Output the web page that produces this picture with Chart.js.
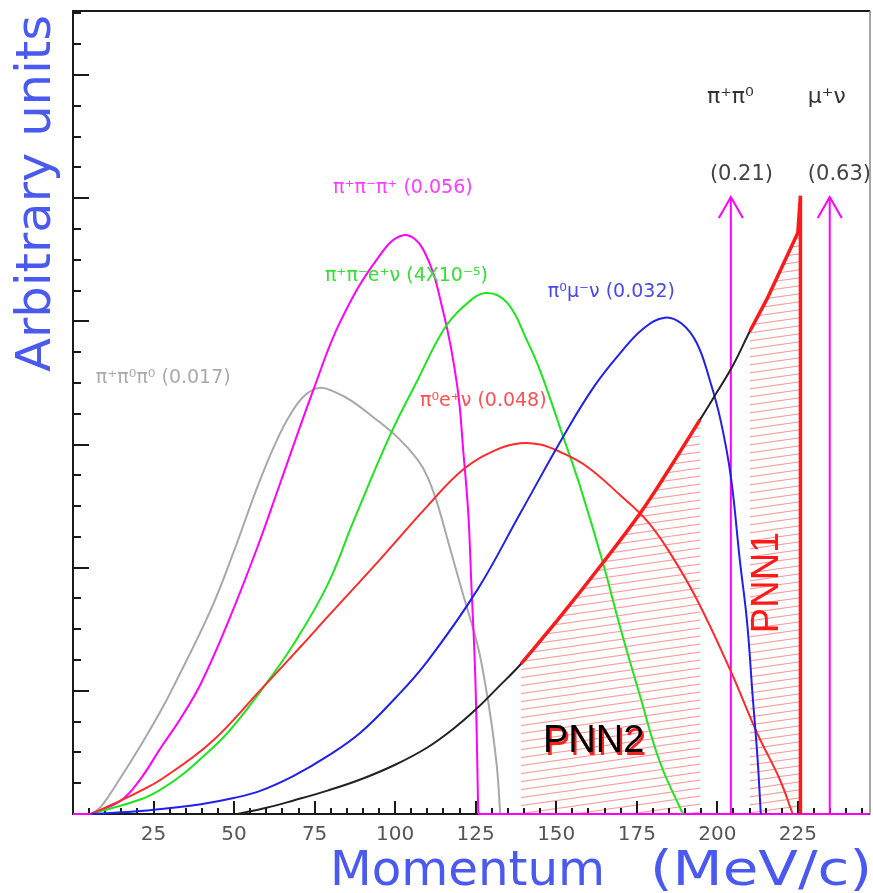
<!DOCTYPE html>
<html>
<head>
<meta charset="utf-8">
<title>K+ decay momentum spectra</title>
<script src="https://cdn.jsdelivr.net/npm/chart.js@4.4.1/dist/chart.umd.min.js"></script>
<style>
  html, body { margin: 0; padding: 0; background: #fff; }
  #wrap { width: 873px; height: 893px; }
</style>
</head>
<body>
<div id="wrap"><canvas id="spectra" width="873" height="893"></canvas></div>
<script>
// momentum (MeV/c) and arbitrary-unit height of each decay spectrum
const pi0pi0X = [5.6, 8.7, 14.9, 21.1, 27.3, 31.3, 42.8, 49.9, 57.3, 63.0, 67.6, 72.0, 76.5, 81.0, 86.1, 93.3, 100.7, 106.9, 110.0, 113.1, 117.0, 121.0, 125.5, 128.0, 130.0, 131.7, 132.6];
const pi0pi0Y = [0, 0.06, 0.30, 0.56, 0.84, 1.04, 1.66, 2.13, 2.66, 3.02, 3.25, 3.40, 3.46, 3.43, 3.36, 3.22, 3.06, 2.88, 2.74, 2.52, 2.16, 1.79, 1.38, 1.05, 0.72, 0.35, 0];

const pipipiX = [5.6, 14.9, 21.1, 27.3, 33.5, 39.7, 48.0, 57.3, 64.5, 74.7, 83.0, 94.5, 102.5, 108.8, 115.0, 119.3, 121.2, 122.7, 123.6, 124.9, 125.8];
const pipipiY = [0, 0.11, 0.29, 0.54, 0.78, 1.06, 1.55, 2.17, 2.70, 3.45, 4.00, 4.51, 4.70, 4.58, 4.07, 3.47, 2.93, 2.44, 1.90, 1.09, 0];
// the pi+pi-pi+ line also runs along the axis outside its hump
const pipipiBaseLeft = [0, 5.6];
const pipipiBaseRight = [125.8, 247];

const ke4X = [5.6, 21.1, 27.3, 33.5, 39.7, 48.0, 58.3, 68.5, 79.0, 87.1, 98.5, 106.9, 115.0, 121.2, 128.0, 134.8, 141.0, 145.0, 152.2, 157.4, 164.5, 169.8, 176.0, 182.2, 189.3];
const ke4Y = [0, 0.12, 0.20, 0.31, 0.45, 0.66, 1.00, 1.38, 1.86, 2.38, 3.08, 3.52, 3.93, 4.12, 4.23, 4.15, 3.84, 3.60, 3.06, 2.66, 2.04, 1.52, 0.96, 0.42, 0];

const ke3X = [5.6, 14.9, 21.1, 27.3, 42.8, 58.3, 70.7, 79.0, 95.4, 110.0, 121.2, 131.7, 138.8, 145.0, 151.2, 159.6, 169.8, 178.2, 185.3, 193.7, 204.0, 212.3, 219.4, 223.4];
const ke3Y = [0, 0.11, 0.19, 0.28, 0.58, 1.01, 1.36, 1.60, 2.07, 2.50, 2.80, 2.96, 3.01, 3.00, 2.94, 2.82, 2.59, 2.38, 2.12, 1.74, 1.17, 0.66, 0.28, 0];

const kmu3X = [5.6, 18.9, 27.3, 39.7, 49.9, 58.3, 68.5, 79.0, 89.2, 100.0, 110.0, 125.5, 138.8, 153.4, 162.0, 169.8, 177.0, 183.7, 189.0, 193.7, 197.7, 201.0, 204.2, 207.0, 209.2, 211.0, 212.5, 213.5];
const kmu3Y = [0, 0.02, 0.04, 0.08, 0.13, 0.19, 0.31, 0.47, 0.66, 0.94, 1.24, 1.82, 2.44, 3.12, 3.48, 3.74, 3.94, 4.03, 3.98, 3.82, 3.52, 3.20, 2.74, 2.06, 1.57, 0.95, 0.45, 0];

// pi+ nu nubar signal spectrum
const pnnX = [51, 60, 68.5, 79, 89.2, 100, 110.0, 118, 125.5, 132, 139.1, 151.2, 164.5, 176.0, 183.1, 194.6, 198.6, 204.8, 210.1, 215.4, 225.0];
const pnnY = [0, 0.05, 0.11, 0.19, 0.28, 0.40, 0.54, 0.69, 0.86, 1.03, 1.22, 1.60, 2.04, 2.44, 2.72, 3.20, 3.37, 3.64, 3.92, 4.18, 4.72];
const pnnEdgeX = [225.8, 225.8];
const pnnEdgeY = [5.02, 0];

// signal regions
const pnn2Range = [139, 195];
const pnn1Range = [210, 226];

// two-body peaks (pi+pi0, mu+nu)
const twoBodyX = [204.2, 234.9];
const twoBodyTop = 5.01;

const xTickLabels = [25, 50, 75, 100, 125, 150, 175, 200, 225];
const xMinorStep = 5;
const yMajorTicks = [0, 1, 2, 3, 4, 5, 6];
const yMinorStep = 0.25;

const xMax = 247.4;
const yMax = 6.52;

const notes = [
  { text: 'π⁺π⁰π⁰ (0.017)', x: 7.1, y: 3.54, color: '#aaaaaa', size: 19 },
  { text: 'π⁺π⁻π⁺ (0.056)', x: 80.7, y: 5.08, color: '#ff3cff', size: 19 },
  { text: 'π⁺π⁻e⁺ν (4X10⁻⁵)', x: 78.2, y: 4.37, color: '#33e033', size: 19 },
  { text: 'π⁰e⁺ν (0.048)', x: 107.7, y: 3.35, color: '#ff5050', size: 19 },
  { text: 'π⁰μ⁻ν (0.032)', x: 147.4, y: 4.24, color: '#4848ee', size: 19 },
  { text: 'π⁺π⁰', x: 196.8, y: 5.82, color: '#333', size: 22 },
  { text: 'μ⁺ν', x: 228.1, y: 5.82, color: '#333', size: 22 },
  { text: '(0.21)', x: 197.7, y: 5.19, color: '#444', size: 21 },
  { text: '(0.63)', x: 228.1, y: 5.19, color: '#444', size: 21 }
];

const FONT = '"DejaVu Sans", sans-serif';
const AXIS_BLUE = '#4a5af0';

function pts(xs, ys) {
  return xs.map((x, i) => ({ x, y: ys[i] }));
}

function inRange(xs, ys, r) {
  return pts(xs, ys).filter(p => p.x >= r[0] && p.x <= r[1]);
}

function hatchPattern(ctx) {
  const c = document.createElement('canvas');
  c.width = 56; c.height = 8;
  const g = c.getContext('2d');
  g.strokeStyle = 'rgba(255, 70, 70, 0.55)';
  g.lineWidth = 1.2;
  g.beginPath();
  for (let k = -1; k <= 1; k++) {
    g.moveTo(0, 8 + k * 8);
    g.lineTo(56, k * 8);
  }
  g.stroke();
  return ctx.createPattern(c, 'repeat');
}

function curve(label, data, color, width, extra) {
  return Object.assign({
    label, data,
    borderColor: color,
    borderWidth: width,
    pointRadius: 0,
    fill: false,
    tension: 0.4,
    clip: 6
  }, extra || {});
}

const canvas = document.getElementById('spectra');
const ctx = canvas.getContext('2d');
const hatch = hatchPattern(ctx);

const pnn1Data = inRange(pnnX, pnnY, pnn1Range).concat(pts(pnnEdgeX, pnnEdgeY));
const pnn2Data = inRange(pnnX, pnnY, pnn2Range);
const straight = { tension: 0 };

const datasets = [
  curve('PNN1', pnn1Data, '#ff1a1a', 3.5, { fill: 'origin', backgroundColor: hatch, tension: 0 }),
  curve('PNN2', pnn2Data, '#ff1a1a', 3.5, { fill: 'origin', backgroundColor: hatch }),
  curve('π⁺νν̄', pts(pnnX, pnnY), '#222222', 2),
  curve('π⁰μ⁻ν', pts(kmu3X, kmu3Y), '#2020ee', 2),
  curve('π⁰e⁺ν', pts(ke3X, ke3Y), '#ff2a2a', 2),
  curve('π⁺π⁻e⁺ν', pts(ke4X, ke4Y), '#1ee61e', 2),
  curve('π⁺π⁻π⁺', pts(pipipiX, pipipiY), '#ff00ff', 2),
  curve('π⁺π⁻π⁺ base', pts(pipipiBaseLeft, [0, 0]), '#ff00ff', 2, straight),
  curve('π⁺π⁻π⁺ tail', pts(pipipiBaseRight, [0, 0]), '#ff00ff', 2, straight),
  curve('π⁺π⁰π⁰', pts(pi0pi0X, pi0pi0Y), '#a8a8a8', 2)
];

twoBodyX.forEach((x, i) => {
  datasets.push(curve('peak' + i, [{ x, y: 0 }, { x, y: twoBodyTop }], '#ff00ff', 2, straight));
});

const frame = {
  id: 'frame',
  beforeDatasetsDraw(chart) {
    const { ctx, chartArea: a, scales: { x, y } } = chart;
    ctx.save();
    ctx.lineCap = 'butt';

    // axis ticks, pointing inward
    ctx.strokeStyle = '#1a1a1a';
    ctx.lineWidth = 2;
    ctx.beginPath();
    for (let v = xMinorStep; v < xMax; v += xMinorStep) {
      const px = Math.round(x.getPixelForValue(v));
      const len = v % 25 === 0 ? 13 : 6;
      ctx.moveTo(px, a.bottom);
      ctx.lineTo(px, a.bottom - len);
    }
    for (let v = yMinorStep; v < yMax; v += yMinorStep) {
      const py = Math.round(y.getPixelForValue(v));
      const len = yMajorTicks.includes(v) ? 16 : 8;
      ctx.moveTo(a.left, py);
      ctx.lineTo(a.left + len, py);
    }
    ctx.stroke();

    // frame
    ctx.beginPath();
    ctx.moveTo(a.right, a.top);
    ctx.lineTo(a.left, a.top);
    ctx.lineTo(a.left, a.bottom);
    ctx.lineTo(a.right, a.bottom);
    ctx.stroke();
    ctx.strokeStyle = '#888';
    ctx.lineWidth = 1.5;
    ctx.beginPath();
    ctx.moveTo(a.right, a.top);
    ctx.lineTo(a.right, a.bottom);
    ctx.stroke();

    // tick labels
    ctx.fillStyle = '#555';
    ctx.font = '20px ' + FONT;
    ctx.textAlign = 'center';
    ctx.textBaseline = 'middle';
    xTickLabels.forEach(v => ctx.fillText(String(v), x.getPixelForValue(v), a.bottom + 21));

    // axis titles, stretched to their width
    ctx.fillStyle = AXIS_BLUE;
    ctx.font = '48px ' + FONT;
    ctx.textBaseline = 'alphabetic';
    ctx.textAlign = 'left';
    const wide = (text, px, py, w) => {
      const m = ctx.measureText(text).width;
      ctx.save();
      ctx.translate(px, py);
      ctx.scale(w / m, 1);
      ctx.fillText(text, 0, 0);
      ctx.restore();
    };
    wide('Momentum', 330, a.bottom + 71, 275);
    wide('(MeV/c)', 650, a.bottom + 71, 222);

    ctx.save();
    ctx.translate(50, 372);
    ctx.rotate(-Math.PI / 2);
    wide('Arbitrary units', 0, 0, 357);
    ctx.restore();

    ctx.restore();
  },
  afterDatasetsDraw(chart) {
    const { ctx, scales: { x, y } } = chart;
    ctx.save();

    // arrow heads on the two-body lines
    ctx.strokeStyle = '#ff00ff';
    ctx.lineWidth = 2;
    twoBodyX.forEach(v => {
      const px = x.getPixelForValue(v);
      const py = y.getPixelForValue(twoBodyTop);
      ctx.beginPath();
      ctx.moveTo(px - 12, py + 21);
      ctx.lineTo(px, py);
      ctx.lineTo(px + 12, py + 21);
      ctx.stroke();
    });

    // decay labels with branching ratios
    ctx.textAlign = 'left';
    ctx.textBaseline = 'middle';
    notes.forEach(n => {
      ctx.font = n.size + 'px ' + FONT;
      ctx.fillStyle = n.color;
      ctx.fillText(n.text, x.getPixelForValue(n.x), y.getPixelForValue(n.y));
    });

    // signal region names
    ctx.font = '38px "Liberation Sans", Arial, sans-serif';
    ctx.textBaseline = 'alphabetic';
    const p2x = x.getPixelForValue(145.9), p2y = y.getPixelForValue(0.5);
    ctx.fillStyle = '#ff2020';
    ctx.fillText('PNN2', p2x + 2, p2y + 3);
    ctx.fillStyle = '#000';
    ctx.fillText('PNN2', p2x, p2y);

    ctx.save();
    ctx.translate(x.getPixelForValue(215.7), y.getPixelForValue(1.88));
    ctx.rotate(-Math.PI / 2);
    ctx.textAlign = 'center';
    ctx.textBaseline = 'middle';
    ctx.fillStyle = '#ff1a1a';
    ctx.fillText('PNN1', 0, 0);
    ctx.restore();

    ctx.restore();
  }
};

new Chart(ctx, {
  type: 'line',
  data: { datasets },
  options: {
    responsive: false,
    animation: false,
    events: [],
    layout: { padding: { left: 73, right: 3, top: 11, bottom: 79 } },
    scales: {
      x: { type: 'linear', min: 0, max: xMax, display: false },
      y: { type: 'linear', min: 0, max: yMax, display: false }
    },
    plugins: {
      legend: { display: false },
      tooltip: { enabled: false },
      filler: { drawTime: 'beforeDatasetsDraw' }
    }
  },
  plugins: [frame]
});
</script>
</body>
</html>
